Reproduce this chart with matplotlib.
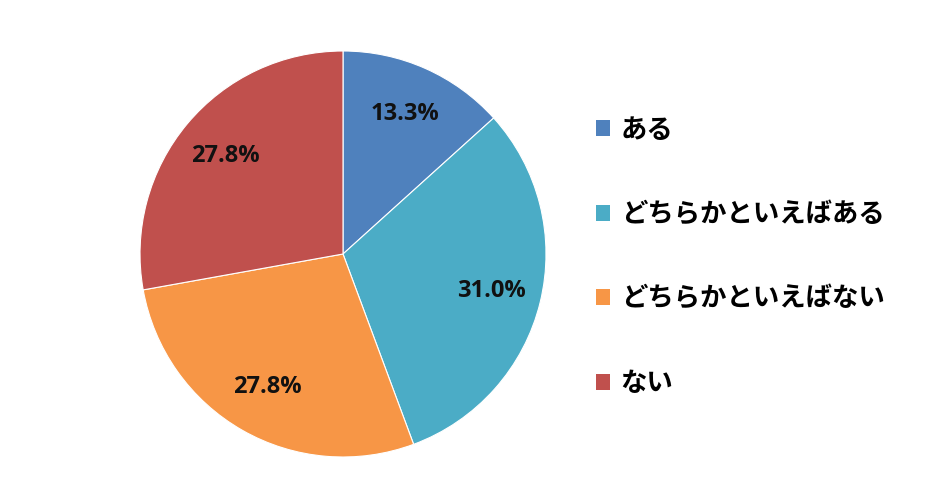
import matplotlib
matplotlib.use("Agg")
import matplotlib.pyplot as plt
from matplotlib.patches import Patch

plt.rcParams['font.family'] = ['Noto Sans CJK JP', 'DejaVu Sans']

categories = ["ある", "どちらかといえばある", "どちらかといえばない", "ない"]
values = [13.3, 31.0, 27.8, 27.8]
colors = ["#4F81BD", "#4BACC6", "#F79646", "#C0504D"]

W, H = 951, 497
fig = plt.figure(figsize=(W / 100, H / 100), dpi=100)
cx, cy, r = 343, 254, 203
ax = fig.add_axes([(cx - r) / W, (H - cy - r) / H, 2 * r / W, 2 * r / H])

wedges, texts, autotexts = ax.pie(
    values, colors=colors, startangle=90, counterclock=False,
    autopct=lambda p: f"{p:.1f}%", pctdistance=0.755,
    wedgeprops=dict(linewidth=0.8, edgecolor="white"),
    textprops=dict(fontsize=17, fontweight="bold", color="#111111"),
)
for t, v in zip(autotexts, values):
    t.set_text(f"{v:.1f}%")
    t.set_family(['Open Sans', 'DejaVu Sans'])
ax.set_xlim(-1, 1)
ax.set_ylim(-1, 1)
ax.set_aspect('equal')

handles = [Patch(facecolor=c, edgecolor='none') for c in colors]
fig.legend(handles, categories, loc='center left',
           bbox_to_anchor=(585 / W, 1 - 257 / H), frameon=False,
           prop=dict(size=19, weight='bold'),
           handlelength=0.55, handleheight=0.55, handletextpad=0.4,
           labelspacing=2.18, borderaxespad=0)

fig.savefig("out.png", dpi=100, facecolor="white")
